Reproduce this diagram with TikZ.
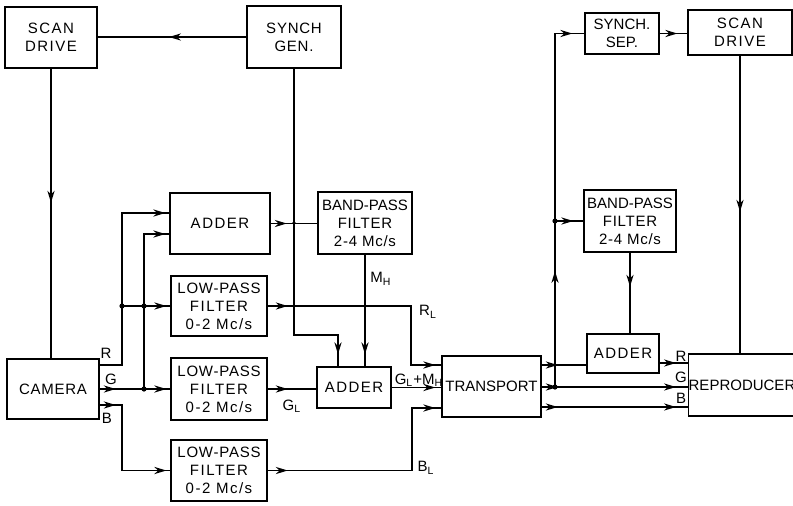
\documentclass[tikz,border=0pt]{standalone}
\usepackage{fontspec}
\setmainfont{Liberation Sans}
\newfontfamily\wide{Liberation Sans}[LetterSpace=10]
\newfontfamily\semi{Liberation Sans}[LetterSpace=5]
\usetikzlibrary{arrows.meta,decorations.markings}
\tikzset{
  bx/.style={draw, line width=0.7pt, align=center, inner sep=0pt, font=\fontsize{7.5}{9}\selectfont},
  ln/.style={line width=0.7pt},
  ar/.style={postaction={decorate,decoration={markings,mark=at position #1 with {\arrow{Stealth[length=6pt,width=3.6pt]}}}}},
  jdot/.style={circle, fill, inner sep=0pt, minimum size=2.6pt},
  sdot/.style={circle, fill, inner sep=0pt, minimum size=1.8pt},
  lb/.style={font=\fontsize{7.5}{9}\selectfont, inner sep=0pt},
}
\begin{document}
\begin{tikzpicture}[x=0.5pt,y=-0.5pt]
\useasboundingbox (0,0) rectangle (793,505);
% boxes
\node[bx, minimum width=46pt, minimum height=30.5pt] (sdL) at (51,37.5) {\wide SCAN\\\wide DRIVE};
\node[bx, minimum width=47pt, minimum height=31pt] (sgen) at (294,37) {\semi SYNCH\\\semi GEN.};
\node[bx, minimum width=50pt, minimum height=30.5pt] (add1) at (220,223.5) {\wide ADDER};
\node[bx, minimum width=47pt, minimum height=31pt] (bpf1) at (365,223) {BAND-PASS\\\semi FILTER\\\semi 2-4 Mc/s};
\node[bx, minimum width=48pt, minimum height=30pt] (lpf1) at (219,306) {\semi LOW-PASS\\\wide FILTER\\\wide 0-2 Mc/s};
\node[bx, minimum width=48pt, minimum height=31pt] (lpf2) at (219,389) {\semi LOW-PASS\\\wide FILTER\\\wide 0-2 Mc/s};
\node[bx, minimum width=48pt, minimum height=30.5pt] (lpf3) at (219,470.5) {\semi LOW-PASS\\\wide FILTER\\\wide 0-2 Mc/s};
\node[bx, minimum width=46pt, minimum height=30pt] (cam) at (53,389) {\semi CAMERA};
\node[bx, minimum width=37pt, minimum height=20.5pt] (add2) at (354,387.5) {\wide ADDER};
\node[bx, minimum width=49.5pt, minimum height=30.5pt] (trans) at (491.5,386.5) {TRANSPORT};
\node[bx, minimum width=37pt, minimum height=20.5pt] (ssep) at (622,33.5) {SYNCH.\\SEP.};
\node[bx, minimum width=52pt, minimum height=22.5pt] (sdR) at (740,32.5) {\wide SCAN\\\wide DRIVE};
\node[bx, minimum width=46pt, minimum height=31pt] (bpf2) at (630,221) {BAND-PASS\\\semi FILTER\\\semi 2-4 Mc/s};
\node[bx, minimum width=36pt, minimum height=19.5pt] (add3) at (623,353.5) {\wide ADDER};
\node[bx, minimum width=52pt, minimum height=31pt] (rep) at (742,385) {REPRODUCER};
% coordinates
\coordinate (rA) at (122,365);
\coordinate (rB) at (122,213);
\coordinate (rj) at (122,306);
\coordinate (gj) at (144,389);
\coordinate (gT) at (144,234);
\coordinate (gx) at (144,306);
\coordinate (b1) at (122,405);
\coordinate (b2) at (122,470.5);
\coordinate (s1) at (294,335);
\coordinate (s2) at (338,335);
\coordinate (sx) at (294,223);
\coordinate (rl1) at (411,306);
\coordinate (rl2) at (411,365);
\coordinate (mx) at (365,306);
\coordinate (bl1) at (412,470.5);
\coordinate (bl2) at (412,408);
\coordinate (rr) at (555,365);
\coordinate (v1) at (555,387);
\coordinate (v2) at (555,33.5);
\coordinate (v3) at (555,221);
\coordinate (rrep) at (0,363);
\coordinate (brow) at (0,407);
% connectors left
\draw[ln, ar=67pt] (sdL.south) -- (sdL.south |- cam.north);
\draw[ln, ar=0.52] (sgen.west) -- (sgen.west -| sdL.east);
\draw[ln, ar=-6pt] (sgen.south) -- (s1) -- (s2) -- (s2 |- add2.north);
\draw[ln, ar=8pt] (add1.east) -- (add1.east -| bpf1.west);
\draw[ln, ar=-6pt] (bpf1.south) -- (bpf1.south |- add2.north);
\draw[ln, ar=-2pt] (cam.east |- rA) -- (rA) -- (rB) -- (rB -| add1.west);
\draw[ln, ar=-2pt] (rj) -- (rj -| lpf1.west);
\draw[ln, ar=8pt, ar=-2pt] (cam.east |- gj) -- (lpf2.west |- gj);
\draw[ln, ar=-2pt] (gj) -- (gT) -- (gT -| add1.west);
\draw[ln, ar=8pt, ar=-2pt] (cam.east |- b1) -- (b1) -- (b2) -- (b2 -| lpf3.west);
\draw[ln, ar=10pt, ar=-3pt] (lpf1.east) -- (rl1) -- (rl2) -- (rl2 -| trans.west);
\draw[ln, ar=10pt] (lpf2.east |- gj) -- (add2.west |- gj);
\draw[ln, ar=-3pt] (add2.east) -- (add2.east -| trans.west);
\draw[ln, ar=10pt, ar=-3pt] (lpf3.east) -- (bl1) -- (bl2) -- (bl2 -| trans.west);
% connectors right
\draw[ln, ar=8pt] (trans.east |- rr) -- (add3.west |- rr);
\draw[ln, ar=-6pt] (add3.east |- rrep) -- (rep.west |- rrep);
\draw[ln, ar=8pt, ar=-6pt] (trans.east |- v1) -- (rep.west |- v1);
\draw[ln, ar=8pt, ar=-6pt] (trans.east |- brow) -- (rep.west |- brow);
\draw[ln, ar=58pt, ar=-6pt] (v1) -- (v2) -- (v2 -| ssep.west);
\draw[ln, ar=-5pt] (v3) -- (v3 -| bpf2.west);
\draw[ln, ar=-5pt] (ssep.east) -- (ssep.east -| sdR.west);
\draw[ln, ar=78pt] (sdR.south) -- (sdR.south |- rep.north);
\draw[ln, ar=17pt] (bpf2.south) -- (bpf2.south |- add3.north);
% dots
\node[jdot] (d1) at (rj) {};
\node[jdot] (d2) at (gx) {};
\node[jdot] (d3) at (gj) {};
\node[sdot] (d4) at (sx) {};
\node[sdot] (d5) at (mx) {};
\node[jdot] (d6) at (v3) {};
\node[jdot] (d7) at (v1) {};
% labels
\node[lb] (lR) at (106,353) {R};
\node[lb] (lG) at (111,379) {G};
\node[lb] (lB) at (107,418) {B};
\node[lb] (lMH) at (381,279) {M\textsubscript{H}};
\node[lb] (lRL) at (428,312) {R\textsubscript{L}};
\node[lb] (lGL) at (292,406) {G\textsubscript{L}};
\node[lb] (lGM) at (419,380) {G\textsubscript{L}+M\textsubscript{H}};
\node[lb] (lBL) at (426,468) {B\textsubscript{L}};
\node[lb] (rR) at (681,356) {R};
\node[lb] (rG) at (681,377) {G};
\node[lb] (rB) at (681,398) {B};
\end{tikzpicture}
\end{document}
